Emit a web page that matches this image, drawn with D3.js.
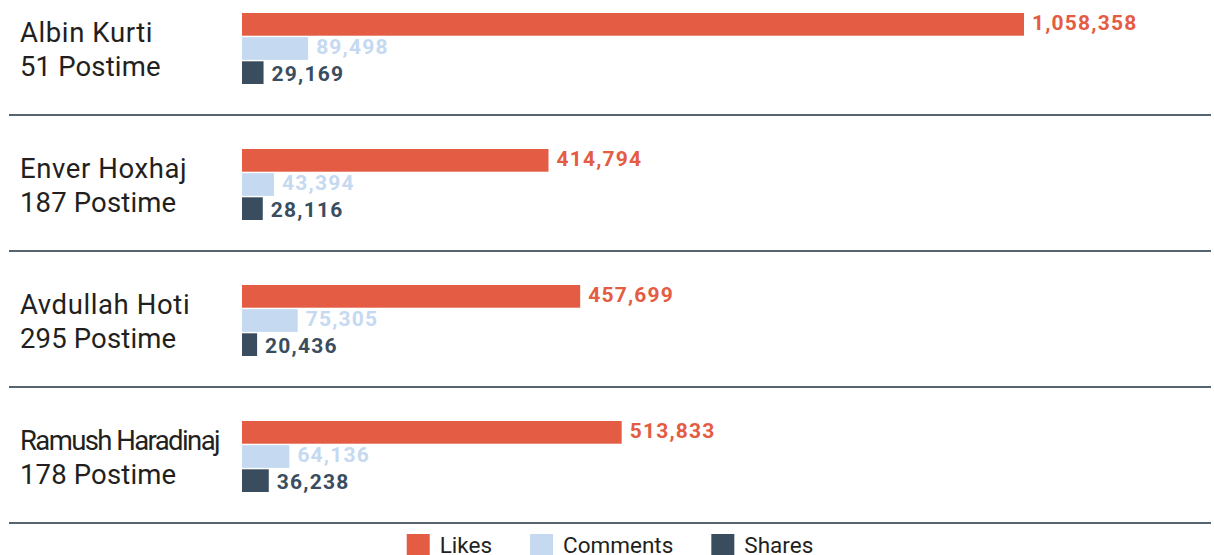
<!DOCTYPE html>
<html>
<head>
<meta charset="utf-8">
<script src="https://cdn.jsdelivr.net/npm/d3@7"></script>
<style>
  html, body { margin: 0; padding: 0; background: #fff; }
  svg { display: block; }
</style>
</head>
<body>
<svg id="chart" width="1214" height="555"></svg>
<script>
const politicians = ["Albin Kurti", "Enver Hoxhaj", "Avdullah Hoti", "Ramush Haradinaj"];
const postCounts = ["51 Postime", "187 Postime", "295 Postime", "178 Postime"];
const seriesNames = ["Likes", "Comments", "Shares"];
const likes = [1058358, 414794, 457699, 513833];
const comments = [89498, 43394, 75305, 64136];
const shares = [29169, 28116, 20436, 36238];

const colors = { Likes: "#E35C43", Comments: "#C5D9F0", Shares: "#3A4D5F" };
const valueSets = { Likes: likes, Comments: comments, Shares: shares };

const W = 1214, H = 555;
const svg = d3.select("#chart");
const fontMain = "Roboto, 'Open Sans', sans-serif";

const x = d3.scaleLinear().domain([0, 1058358]).range([242, 1024]);
const yGroup = d3.scaleBand().domain(politicians).range([13, 13 + 136 * politicians.length]).paddingInner(0).paddingOuter(0);
const ySeries = d3.scaleBand().domain(seriesNames).range([0, 71]).paddingInner(0.06);
const textDy = { Likes: 5.5, Comments: 5, Shares: 8.5 };

const groups = svg.selectAll("g.group").data(politicians).join("g")
  .attr("class", "group")
  .attr("transform", d => `translate(0,${yGroup(d)})`);

// group labels
groups.append("text")
  .attr("x", 20).attr("y", 28.5)
  .attr("font-family", fontMain).attr("font-size", 27.5).attr("fill", "#231f20")
  .attr("letter-spacing", d => d === "Ramush Haradinaj" ? -1.6 : 0.6)
  .text(d => d);
groups.append("text")
  .attr("x", 20).attr("y", 63)
  .attr("font-family", fontMain).attr("font-size", 27.5).attr("fill", "#231f20")
  .attr("letter-spacing", 0.15)
  .text((d, i) => postCounts[i]);

// bars
seriesNames.forEach(s => {
  groups.append("rect")
    .attr("x", x(0))
    .attr("y", ySeries(s))
    .attr("width", (d, i) => x(valueSets[s][i]) - x(0))
    .attr("height", ySeries.bandwidth())
    .attr("fill", colors[s]);
  groups.append("text")
    .attr("x", (d, i) => x(valueSets[s][i]) + 8)
    .attr("y", ySeries(s) + ySeries.bandwidth() / 2 + textDy[s])
    .attr("font-family", fontMain).attr("font-weight", 700)
    .attr("font-size", 21).attr("letter-spacing", 1.2)
    .attr("fill", colors[s])
    .text((d, i) => d3.format(",")(valueSets[s][i]));
});

// separator lines
groups.append("line")
  .attr("x1", 9).attr("x2", 1211)
  .attr("y1", 102).attr("y2", 102)
  .attr("stroke", "#56646f").attr("stroke-width", 2);

// legend
const legend = svg.append("g").attr("class", "legend");
let lx = 0;
const gap = 38;
seriesNames.forEach(s => {
  const g = legend.append("g");
  g.append("rect").attr("x", 0).attr("y", 534).attr("width", 23).attr("height", 23).attr("fill", colors[s]);
  const t = g.append("text").attr("x", 33).attr("y", 553)
    .attr("font-family", fontMain).attr("font-size", 22.5).attr("fill", "#231f20").text(s);
  const w = 33 + t.node().getComputedTextLength();
  g.attr("transform", `translate(${lx},0)`);
  lx += w + gap;
});
const totalW = lx - gap;
legend.attr("transform", `translate(${(W - totalW) / 2 + 3},0)`);
</script>
</body>
</html>
